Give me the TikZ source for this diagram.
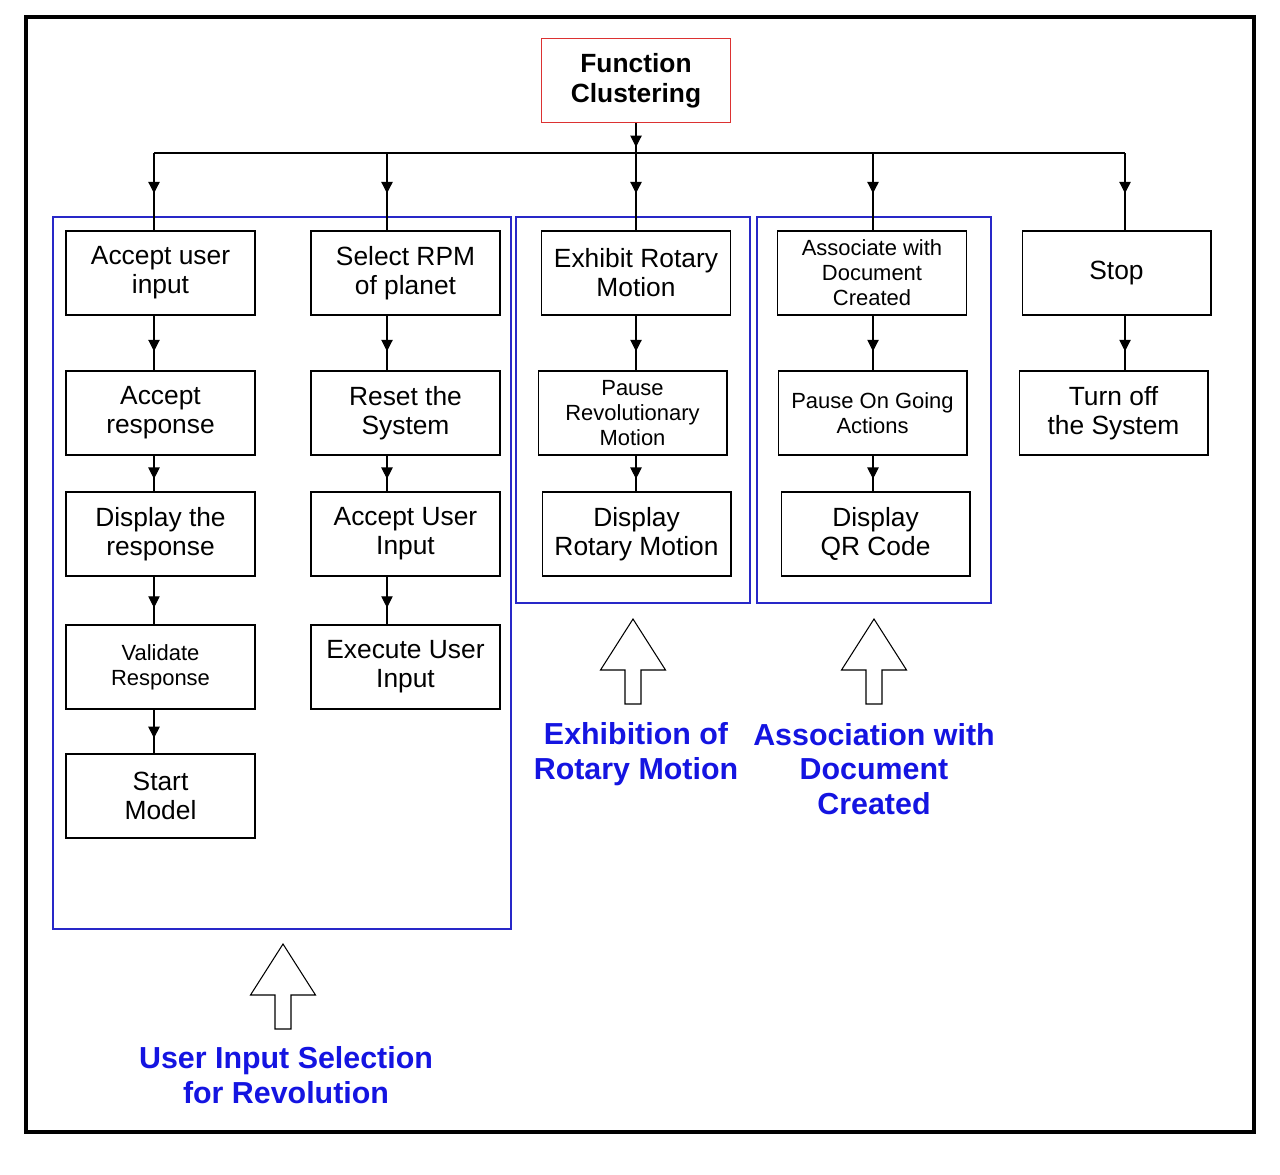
\documentclass[tikz,border=0pt]{standalone}
\usepackage{fontspec}
\setmainfont{Liberation Sans}
\usetikzlibrary{arrows.meta,decorations.markings,positioning}
\definecolor{grpblue}{RGB}{40,40,200}
\definecolor{lblblue}{RGB}{20,20,225}
\definecolor{topred}{RGB}{220,50,50}
\tikzstyle{func} = [rectangle, draw=black, line width=0.6pt, minimum width=3.78cm, minimum height=1.68cm, align=center, font=\fontsize{15}{16.5}\selectfont]
\tikzstyle{funcsmall} = [func, font=\fontsize{12.5}{14.2}\selectfont]
\tikzstyle{group} = [draw=grpblue, line width=0.6pt]
\tikzstyle{grouptitle} = [text=lblblue, font=\bfseries\fontsize{17.3}{19.6}\selectfont, align=center]
\tikzstyle{hollow} = [draw=black, line width=0.6pt, fill=white]
\tikzset{midarrow/.style={draw, line width=0.6pt,
    decoration={markings, mark=at position #1 with {\arrow{Triangle[length=6.5pt,width=6.5pt]}}},
    postaction={decorate}},
  midarrow/.default=0.65}

\begin{document}
\begin{tikzpicture}[x=0.02cm, y=-0.02cm]
\useasboundingbox (0,0) rectangle (1280,1174);
\draw[line width=2.3pt] (26,17) rectangle (1254,1132);

% Groups
\draw[group] (53,217) rectangle (511,929);
\draw[group] (516,217) rectangle (750,603);
\draw[group] (757,217) rectangle (991,603);

% Root
\node[func, draw=topred, font=\bfseries\fontsize{15}{17}\selectfont] (root) at (636,80.5) {Function\\Clustering};

% Bus
\coordinate (bus) at (636,153);
\foreach \n/\x in {b1/154,b2/387,b3/636,b4/873,b5/1125}
  \coordinate (\n) at (\x,153);

% Column 1
\node[func] (input) at (160.5,273) {Accept user\\input};
\node[func] (response) at (160.5,413) {Accept\\response};
\node[func] (display) at (160.5,534) {Display the\\response};
\node[funcsmall] (validate) at (160.5,667) {Validate\\Response};
\node[func] (start) at (160.5,796) {Start\\Model};

% Column 2
\node[func] (rpm) at (405.5,273) {Select RPM\\of planet};
\node[func] (reset) at (405.5,413) {Reset the\\System};
\node[func] (uinput) at (405.5,534) {Accept User\\Input};
\node[func] (execute) at (405.5,667) {Execute User\\Input};

% Column 3
\node[func] (rotary) at (636,273) {Exhibit Rotary\\Motion};
\node[funcsmall] (pause) at (632.5,413) {Pause\\Revolutionary\\Motion};
\node[func] (drotary) at (636.5,534) {Display\\Rotary Motion};

% Column 4
\node[funcsmall] (assoc) at (872,273) {Associate with\\Document\\Created};
\node[funcsmall] (pausego) at (872.5,413) {Pause On Going\\Actions};
\node[func] (qr) at (875.5,534) {Display\\QR Code};

% Column 5
\node[func] (stop) at (1116.5,273) {Stop};
\node[func] (turnoff) at (1113.5,413) {Turn off\\the System};

% Connectors
\draw[midarrow=0.8] (root) -- (bus);
\draw[line width=0.6pt] (b1) -- (b5);
\foreach \c/\t in {b1/input,b2/rpm,b3/rotary,b4/assoc,b5/stop}
  \draw[midarrow=0.52] (\c) -- (\c |- \t.north);
\foreach \a/\b/\c in {input/response/b1,response/display/b1,display/validate/b1,validate/start/b1,
    rpm/reset/b2,reset/uinput/b2,uinput/execute/b2,
    rotary/pause/b3,pause/drotary/b3,
    assoc/pausego/b4,pausego/qr/b4,
    stop/turnoff/b5}
  \draw[midarrow] (\a.south -| \c) -- (\b.north -| \c);

% Hollow arrows
\foreach \x/\y in {633/619,874/619,283/944}
  \draw[hollow] (\x,\y) -- ++(32.5,51) -- ++(-24.5,0) -- ++(0,34) -- ++(-16,0)
    -- ++(0,-34) -- ++(-24.5,0) -- cycle;

% Group titles
\node[grouptitle] (rotlbl) at (636,754) {Exhibition of\\Rotary Motion};
\node[grouptitle] (doclbl) at (874,769) {Association with\\Document\\Created};
\node[grouptitle] (userlbl) at (286,1075) {User Input Selection\\for Revolution};
\end{tikzpicture}
\end{document}
